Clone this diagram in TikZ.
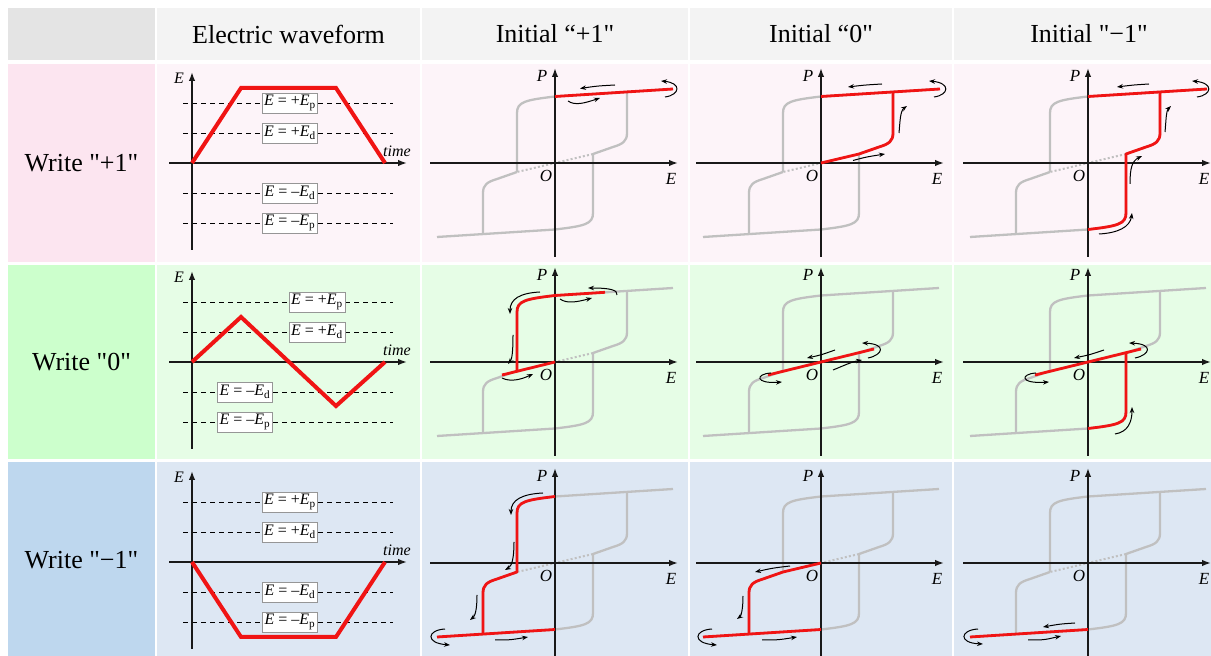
\documentclass[tikz,border=0pt]{standalone}
\usepackage{fontspec}
\setmainfont{Liberation Serif}[Ligatures=TeXOff]
\usetikzlibrary{arrows.meta}
\definecolor{hdrA}{RGB}{228,228,228}
\definecolor{hdrB}{RGB}{243,243,243}
\definecolor{pinkL}{RGB}{252,229,240}
\definecolor{pinkC}{RGB}{253,244,249}
\definecolor{greenL}{RGB}{204,255,204}
\definecolor{greenC}{RGB}{230,253,230}
\definecolor{blueL}{RGB}{190,215,238}
\definecolor{blueC}{RGB}{221,231,243}
\definecolor{axc}{RGB}{25,25,25}
\definecolor{loopc}{RGB}{192,192,192}
\definecolor{redc}{RGB}{240,20,20}
\definecolor{boxc}{RGB}{150,150,150}
\tikzset{
  hdr/.style={font=\fontsize{26}{30}\selectfont, inner sep=0pt},
  ax/.style={line width=1.6pt, draw=axc, -{Latex[length=9pt,width=6.5pt]}},
  loopg/.style={line width=2.3pt, draw=loopc, line join=round},
  loopdot/.style={line width=2pt, draw=loopc, dash pattern=on 2pt off 2.2pt},
  redp/.style={line width=2.8pt, draw=redc, line join=round},
  redw/.style={line width=4pt, draw=redc, line join=miter},
  sarr/.style={line width=1pt, draw=black, -{Stealth[length=6pt,width=4.5pt]}},
  lbl/.style={font=\fontsize{17}{19}\selectfont\itshape, inner sep=0pt},
  wlbl/.style={font=\fontsize{16}{18}\selectfont\itshape, inner sep=0pt},
  lvl/.style={line width=0.9pt, draw=black, dash pattern=on 5pt off 4pt},
  wbox/.style={draw=boxc, fill=white, line width=0.7pt, inner xsep=2pt, inner ysep=1pt,
    minimum height=20pt, font=\fontsize{16}{18}\selectfont}
}
% hysteresis loop with axes and labels; #1,#2 origin, #3 name prefix
\newcommand\hysbase[3]{%
  \begin{scope}[shift={(#1,#2)}]
    \draw[loopg] (-38,-9) -- (-38,50) .. controls (-38,61) and (-30,63) .. (0,66.5) -- (118,74);
    \draw[loopg] (72,71.1) -- (72,30) .. controls (72,22) and (68,19) .. (58,16) -- (38,9);
    \draw[loopg] (38,9) -- (38,-50) .. controls (38,-61) and (30,-63) .. (0,-66.5) -- (-118,-74);
    \draw[loopg] (-72,-71.1) -- (-72,-30) .. controls (-72,-22) and (-68,-19) .. (-58,-16) -- (-38,-9);
    \draw[loopdot] (38,9) -- (-38,-9);
    \coordinate (#3W) at (-125,0);
    \coordinate (#3Et) at (123,0);
    \coordinate (#3S) at (0,-94);
    \coordinate (#3N) at (0,95);
    \draw[ax] (#3W) -- (#3Et);
    \draw[ax] (#3S) -- (#3N);
    \node[lbl] (#3P) at (-13,87) {P};
    \node[lbl] (#3O) at (-9,-13) {O};
    \node[lbl] (#3E) at (116,-16) {E};
  \end{scope}}
% waveform axes and level lines; #1 origin y, #2 name prefix
\newcommand\wavebase[2]{%
  \begin{scope}[shift={(192,#1)}]
    \foreach \lv in {60,30,-30,-60} \draw[lvl] (-9,\lv) -- (201,\lv);
    \coordinate (#2W) at (-23,0);
    \coordinate (#2Et) at (215,0);
    \coordinate (#2S) at (0,-87);
    \coordinate (#2N) at (0,91);
    \draw[ax] (#2W) -- (#2Et);
    \draw[ax] (#2S) -- (#2N);
    \node[wlbl] (#2E) at (-13,85) {E};
    \node[wlbl] (#2t) at (205,12) {time};
  \end{scope}}
\newcommand\Ep{\textit{E} = +\textit{E}\textsubscript{p}}
\newcommand\Ed{\textit{E} = +\textit{E}\textsubscript{d}}
\newcommand\mEd{\textit{E} = –\textit{E}\textsubscript{d}}
\newcommand\mEp{\textit{E} = –\textit{E}\textsubscript{p}}
\begin{document}
\begin{tikzpicture}[x=1pt,y=1pt]
\useasboundingbox (0,0) rectangle (1211,656);
% table cells
\fill[hdrA] (8,596) rectangle (155,648);
\foreach \a/\b in {157/420,422/688,690/952,954/1211} \fill[hdrB] (\a,596) rectangle (\b,648);
\fill[pinkL] (8,394) rectangle (155,592);
\foreach \a/\b in {157/420,422/688,690/952,954/1211} \fill[pinkC] (\a,394) rectangle (\b,592);
\fill[greenL] (8,197) rectangle (155,391);
\foreach \a/\b in {157/420,422/688,690/952,954/1211} \fill[greenC] (\a,197) rectangle (\b,391);
\fill[blueL] (8,0) rectangle (155,194);
\foreach \a/\b in {157/420,422/688,690/952,954/1211} \fill[blueC] (\a,0) rectangle (\b,194);
% headings
\node[hdr] (h1) at (288.5,622) {Electric waveform};
\node[hdr] (h2) at (555,622) {Initial “+1"};
\node[hdr] (h3) at (821,622) {Initial “0"};
\node[hdr] (h4) at (1089,622) {Initial "−1"};
\node[hdr] (r1) at (81.5,493) {Write "+1"};
\node[hdr] (r2) at (81.5,294) {Write "0"};
\node[hdr] (r3) at (81.5,96) {Write "−1"};

% ---- waveforms ----
\wavebase{493}{wa}
\begin{scope}[shift={(192,493)}]
  \node[wbox] (wa1) at (98,60) {\Ep};
  \node[wbox] (wa2) at (98,30) {\Ed};
  \node[wbox] (wa3) at (98,-30) {\mEd};
  \node[wbox] (wa4) at (98,-60) {\mEp};
  \draw[redw] (0,0) -- (49,75) -- (144,75) -- (193,0);
\end{scope}
\wavebase{294}{wb}
\begin{scope}[shift={(192,294)}]
  \node[wbox] (wb1) at (125,60) {\Ep};
  \node[wbox] (wb2) at (125,30) {\Ed};
  \node[wbox] (wb3) at (53,-30) {\mEd};
  \node[wbox] (wb4) at (53,-60) {\mEp};
  \draw[redw] (0,0) -- (49,45) -- (144,-44) -- (193,0);
\end{scope}
\wavebase{94}{wc}
\begin{scope}[shift={(192,94)}]
  \node[wbox] (wc1) at (98,60) {\Ep};
  \node[wbox] (wc2) at (98,30) {\Ed};
  \node[wbox] (wc3) at (98,-30) {\mEd};
  \node[wbox] (wc4) at (98,-60) {\mEp};
  \draw[redw] (0,0) -- (49,-75) -- (144,-75) -- (193,0);
\end{scope}

% ---- row 1: write +1 ----
\hysbase{555}{493}{aa}
\begin{scope}[shift={(555,493)}]
  \draw[redp] (0,66.5) -- (118,74);
  \draw[sarr] (60,78) .. controls (42,77) .. (25,74.5);
  \draw[sarr] (13,62) .. controls (20,57) and (30,60) .. (45,65);
  \draw[sarr] (110,66) .. controls (125,68) and (127,80) .. (106,82);
\end{scope}
\hysbase{821}{493}{ab}
\begin{scope}[shift={(821,493)}]
  \draw[redp] (0,0) -- (38,9) -- (58,16) .. controls (68,19) and (72,22) .. (72,30) -- (72,71.1);
  \draw[redp] (0,66.5) -- (119,74);
  \draw[sarr] (61,79) .. controls (44,78) .. (27,76);
  \draw[sarr] (113,66) .. controls (128,68) and (130,80) .. (108,82);
  \draw[sarr] (78,30) .. controls (79,40) and (79,52) .. (86,57);
  \draw[sarr] (32,2.5) .. controls (45,6) .. (64,9);
\end{scope}
\hysbase{1088}{493}{ac}
\begin{scope}[shift={(1088,493)}]
  \draw[redp] (0,-66.5) .. controls (30,-63) and (38,-61) .. (38,-50) -- (38,9) -- (58,16) .. controls (68,19) and (72,22) .. (72,30) -- (72,71.1);
  \draw[redp] (0,66.5) -- (119,74);
  \draw[sarr] (61,79) .. controls (45,78) .. (29,76);
  \draw[sarr] (109,66) .. controls (124,68) and (126,80) .. (104,82);
  \draw[sarr] (77,31) .. controls (78,41) and (78,52) .. (83,57);
  \draw[sarr] (42,-21) .. controls (42,-5) and (44,2) .. (54,7);
  \draw[sarr] (11,-71) .. controls (30,-70) and (42,-64) .. (44,-50);
\end{scope}

% ---- row 2: write 0 ----
\hysbase{555}{294}{ba}
\begin{scope}[shift={(555,294)}]
  \draw[redp] (-53,-13) -- (0,0);
  \draw[redp] (-38,-9.3) -- (-38,50) .. controls (-38,61) and (-30,63) .. (0,66.5) -- (50,69.7);
  \draw[sarr] (62,67) .. controls (63,72) and (55,74) .. (33,74);
  \draw[sarr] (5,63) .. controls (12,58) and (22,60) .. (37,64);
  \draw[sarr] (-15,70) .. controls (-35,69) and (-45,63) .. (-45,48);
  \draw[sarr] (-42,27) .. controls (-42,10) and (-43,3) .. (-47,-2);
  \draw[sarr] (-53,-16) .. controls (-45,-20) and (-35,-18) .. (-22,-12);
\end{scope}
\hysbase{821}{294}{bb}
\begin{scope}[shift={(821,294)}]
  \draw[redp] (-53,-13) -- (53,13);
  \draw[sarr] (14,12) .. controls (0,7) .. (-14,4);
  \draw[sarr] (47,4) .. controls (62,7) and (66,18) .. (41,19);
  \draw[sarr] (12,-8) .. controls (22,-4) and (30,0) .. (41,2);
  \draw[sarr] (-50,-11) .. controls (-66,-12) and (-66,-22) .. (-39,-20);
\end{scope}
\hysbase{1088}{294}{bc}
\begin{scope}[shift={(1088,294)}]
  \draw[redp] (-53,-13) -- (53,13);
  \draw[redp] (0,-66.5) .. controls (30,-63) and (38,-61) .. (38,-50) -- (38,9.3);
  \draw[sarr] (16,12) .. controls (1,7) .. (-14,4);
  \draw[sarr] (47,4) .. controls (62,7) and (66,18) .. (41,19);
  \draw[sarr] (-52,-11) .. controls (-68,-12) and (-68,-22) .. (-39,-20);
  \draw[sarr] (27,-72) .. controls (40,-70) and (44,-60) .. (44,-45);
\end{scope}

% ---- row 3: write -1 ----
\hysbase{555}{93}{ca}
\begin{scope}[shift={(555,93)}]
  \draw[redp] (0,66.5) .. controls (-30,63) and (-38,61) .. (-38,50) -- (-38,-9) -- (-58,-16) .. controls (-68,-19) and (-72,-22) .. (-72,-30) -- (-72,-71.1);
  \draw[redp] (0,-66.5) -- (-118,-74);
  \draw[sarr] (-12,70) .. controls (-33,69) and (-44,63) .. (-44,48);
  \draw[sarr] (-41,21) .. controls (-41,5) and (-43,-3) .. (-50,-7);
  \draw[sarr] (-78,-32) .. controls (-78,-47) and (-80,-53) .. (-85,-57);
  \draw[sarr] (-110,-66) .. controls (-128,-67) and (-130,-80) .. (-105,-82);
  \draw[sarr] (-60,-77) .. controls (-45,-77) .. (-27,-74);
\end{scope}
\hysbase{821}{93}{cb}
\begin{scope}[shift={(821,93)}]
  \draw[redp] (0,0) -- (-38,-9) -- (-58,-16) .. controls (-68,-19) and (-72,-22) .. (-72,-30) -- (-72,-71.1);
  \draw[redp] (0,-66.5) -- (-118,-74);
  \draw[sarr] (-31,-3) .. controls (-48,-5) .. (-66,-9);
  \draw[sarr] (-78,-33) .. controls (-78,-47) and (-80,-53) .. (-84,-56);
  \draw[sarr] (-109,-66) .. controls (-127,-67) and (-129,-80) .. (-104,-82);
  \draw[sarr] (-59,-77) .. controls (-43,-77) .. (-24,-74);
\end{scope}
\hysbase{1088}{93}{cc}
\begin{scope}[shift={(1088,93)}]
  \draw[redp] (0,-66.5) -- (-118,-74);
  \draw[sarr] (-13,-60) .. controls (-28,-61) .. (-45,-64);
  \draw[sarr] (-60,-77) .. controls (-44,-77) .. (-27,-73);
  \draw[sarr] (-110,-66) .. controls (-128,-67) and (-130,-80) .. (-105,-81);
\end{scope}
\end{tikzpicture}
\end{document}
